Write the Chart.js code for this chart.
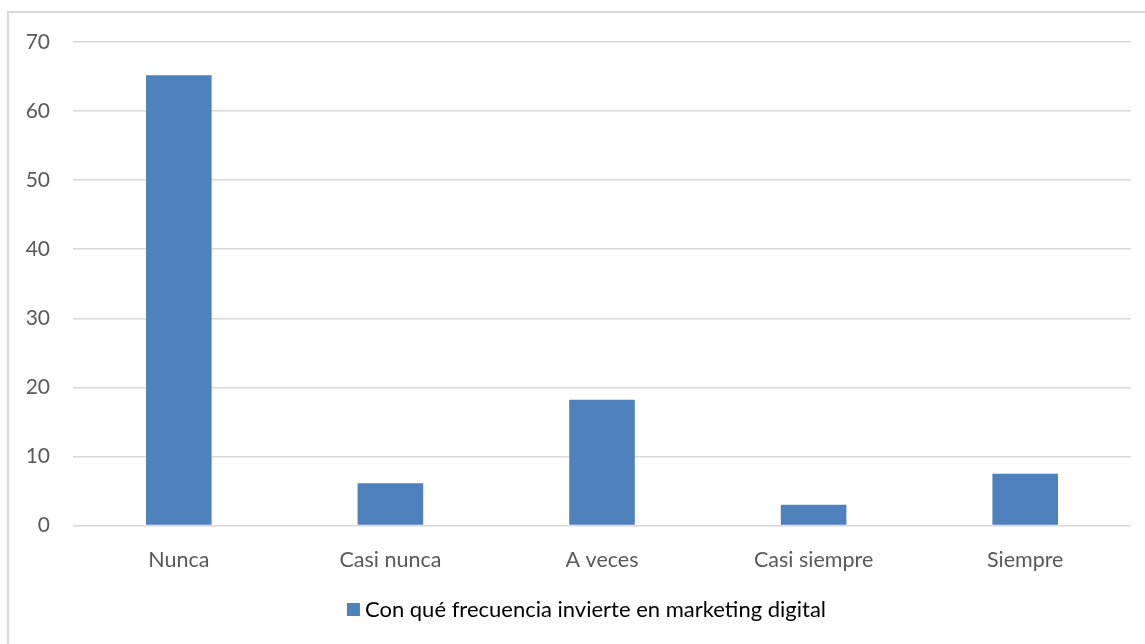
<!DOCTYPE html>
<html>
<head>
<meta charset="utf-8">
<script src="https://cdn.jsdelivr.net/npm/chart.js@4/dist/chart.umd.min.js"></script>
<style>
  html, body { margin: 0; padding: 0; background: #ffffff; }
  #wrap { position: relative; width: 1145px; height: 644px; }
</style>
</head>
<body>
<div id="wrap"><canvas id="c" width="1145" height="644"></canvas></div>
<script>
// Survey responses (%), one bar per answer
const categories = ['Nunca', 'Casi nunca', 'A veces', 'Casi siempre', 'Siempre'];
const seriesName = 'Con qué frecuencia invierte en marketing digital';
const seriesValues = [65.2, 6.1, 18.2, 3.0, 7.5];
const yTicks = [0, 10, 20, 30, 40, 50, 60, 70];

const FONT = 'Lato, "Open Sans", "Liberation Sans", sans-serif';
const FRAME = { left: 8, top: 12, right: 1165 };   // chart object frame (wider than the page)

// light grey frame around the chart object
const framePlugin = {
  id: 'frame',
  beforeDraw(chart) {
    const ctx = chart.ctx;
    ctx.save();
    ctx.fillStyle = '#ffffff';
    ctx.fillRect(0, 0, chart.width, chart.height);
    ctx.strokeStyle = '#d9d9d9';
    ctx.lineWidth = 2;
    ctx.beginPath();
    ctx.moveTo(FRAME.left, chart.height + 5);
    ctx.lineTo(FRAME.left, FRAME.top);
    ctx.lineTo(chart.width + 5, FRAME.top);
    ctx.stroke();
    ctx.restore();
  }
};

// series key, centred on the chart object's frame below the category labels
const keyPlugin = {
  id: 'seriesKey',
  afterDraw(chart) {
    const ctx = chart.ctx;
    const ds = chart.data.datasets[0];
    const box = 13, gap = 5;
    ctx.save();
    ctx.font = '22px ' + FONT;
    const tw = ctx.measureText(ds.label).width;
    const total = box + gap + tw;
    const cx = (FRAME.left + FRAME.right) / 2;
    const x0 = cx - total / 2;
    const cy = chart.chartArea.bottom + 84;
    ctx.fillStyle = ds.backgroundColor;
    ctx.fillRect(x0, cy - box / 2, box, box);
    ctx.fillStyle = '#000000';
    ctx.textBaseline = 'middle';
    ctx.textAlign = 'left';
    ctx.fillText(ds.label, x0 + box + gap, cy);
    ctx.restore();
  }
};

new Chart(document.getElementById('c'), {
  type: 'bar',
  data: {
    labels: categories,
    datasets: [{
      label: seriesName,
      data: seriesValues,
      backgroundColor: '#4f81bd',
      borderWidth: 0,
      categoryPercentage: 1,
      barPercentage: 0.31
    }]
  },
  options: {
    responsive: false,
    animation: false,
    layout: { padding: { left: 0, right: 14, top: 42, bottom: 55.5 } },
    scales: {
      x: {
        grid: { display: false, drawTicks: false },
        border: { display: false },
        ticks: { color: '#595959', font: { family: FONT, size: 21.5 }, padding: 22 },
        afterFit(scale) { scale.height = 63; }
      },
      y: {
        min: 0, max: 70,
        afterBuildTicks(scale) { scale.ticks = yTicks.map(v => ({ value: v })); },
        grid: { color: '#d9d9d9', lineWidth: 1.5, drawTicks: false },
        border: { display: false },
        ticks: { color: '#595959', font: { family: FONT, size: 21 }, padding: 23 },
        afterFit(scale) { scale.width = 73; }
      }
    },
    plugins: {
      legend: { display: false },
      tooltip: { enabled: false }
    }
  },
  plugins: [framePlugin, keyPlugin]
});
</script>
</body>
</html>
